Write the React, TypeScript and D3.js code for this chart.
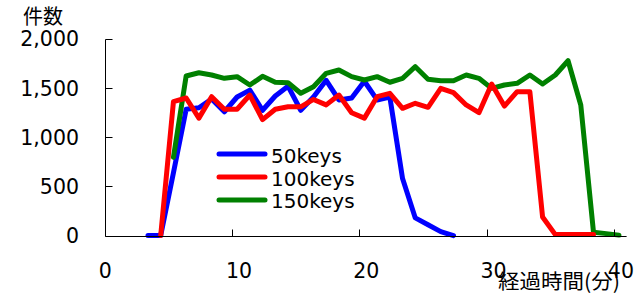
import React from 'react';
import * as d3 from 'd3';

// sampling times (minutes) shared by the three runs
const minutes = [
  3.4, 4.4, 5.4, 6.4, 7.4, 8.4, 9.4, 10.4, 11.4, 12.4, 13.4, 14.4, 15.4, 16.4,
  17.4, 18.4, 19.4, 20.4, 21.4, 22.4, 23.4, 24.4, 25.4, 26.4, 27.4, 28.4,
  29.4, 30.4, 31.4, 32.4, 33.4, 34.4, 35.4, 36.4, 37.4, 38.4, 39.4, 40.4
];

const keys50 = [
  0, 0, 640, 1285, 1300, 1390, 1260, 1410, 1480, 1275, 1420, 1520, 1275, 1410,
  1580, 1380, 1400, 1570, 1380, 1410, 580, 180, 110, 40, 0
];
const keys100 = [
  0, 1362, 1400, 1195, 1413, 1285, 1285, 1430, 1180, 1285, 1310, 1310, 1385,
  1330, 1430, 1250, 1195, 1413, 1447, 1295, 1346, 1305, 1498, 1454, 1329, 1250,
  1542, 1318, 1464, 1464, 190, 10, 10, 10, 10
];
const keys150 = [
  796, 1624, 1657, 1634, 1600, 1617, 1532, 1620, 1560, 1556, 1448, 1515, 1651,
  1685, 1617, 1583, 1617, 1560, 1600, 1718, 1590, 1576, 1576, 1634, 1600, 1498,
  1532, 1549, 1634, 1542, 1634, 1779, 1329, 35, 20, 5
];

const seriesNames = ['50keys', '100keys', '150keys'];
const seriesColors = ['#0000ff', '#ff0000', '#008000'];
const seriesStart = [0, 1, 2]; // index into minutes where each run starts

const yTicks = [0, 500, 1000, 1500, 2000];
const yTickLabels = ['0', '500', '1,000', '1,500', '2,000'];
const xTicks = [0, 10, 20, 30, 40];

const font = '"DejaVu Sans", sans-serif';
const cjk = '"Noto Sans CJK JP", sans-serif';

export default function App() {
  const width = 641;
  const height = 297;

  const x = d3.scaleLinear().domain([0, 41]).range([104.7, 626.6]);
  const y = d3.scaleLinear().domain([0, 2000]).range([235.6, 39]);

  const allValues = [keys50, keys100, keys150];
  const line = d3.line<[number, number]>()
    .x(d => x(d[0]))
    .y(d => y(d[1]));

  const paths = allValues.map((vals, i) =>
    line(vals.map((v, j) => [minutes[seriesStart[i] + j], v] as [number, number]))
  );

  // draw order: blue, green, red
  const order = [0, 2, 1];
  const axisLeft = Math.round(x(0)) + 0.5;
  const axisBottom = Math.round(y(0)) + 0.5;

  return (
    <svg width={width} height={height}
      style={{ position: 'absolute', left: 0, top: 0, background: '#fff' }}>
      {order.map(i => (
        <path key={i} d={paths[i] || ''} fill="none" stroke={seriesColors[i]}
          strokeWidth={5} strokeLinejoin="round" strokeLinecap="round" />
      ))}

      {/* axes */}
      <line x1={axisLeft} x2={axisLeft} y1={Math.round(y(2000)) + 0.5} y2={axisBottom} stroke="#000" />
      <line x1={axisLeft} x2={x(41)} y1={axisBottom} y2={axisBottom} stroke="#000" />
      {yTicks.map((t, i) => (
        <g key={t}>
          <line x1={axisLeft} x2={axisLeft + 7} y1={Math.round(y(t)) + 0.5} y2={Math.round(y(t)) + 0.5} stroke="#000" />
          <text x={79} y={y(t)} dy="0.36em" textAnchor="end" fontFamily={font} fontSize={20.5}>
            {yTickLabels[i]}
          </text>
        </g>
      ))}
      {xTicks.map(t => (
        <g key={t}>
          {t > 0 && (
            <line x1={Math.round(x(t)) + 0.5} x2={Math.round(x(t)) + 0.5} y1={axisBottom - 7} y2={axisBottom} stroke="#000" />
          )}
          <text x={x(t) - 6} y={278} textAnchor="start" fontFamily={font} fontSize={20.5}>
            {t}
          </text>
        </g>
      ))}

      <text x={23} y={24} fontFamily={cjk} fontSize={20}>件数</text>
      <text x={498} y={289} fontFamily={cjk} fontSize={20.5} textLength={122} lengthAdjust="spacingAndGlyphs">
        経過時間(分)
      </text>

      {/* legend */}
      {seriesNames.map((name, i) => (
        <g key={name}>
          <line x1={219} x2={265} y1={154 + i * 23} y2={154 + i * 23}
            stroke={seriesColors[i]} strokeWidth={5} strokeLinecap="round" />
          <text x={271} y={163 + i * 22.5} fontFamily={font} fontSize={20}>{name}</text>
        </g>
      ))}
    </svg>
  );
}
